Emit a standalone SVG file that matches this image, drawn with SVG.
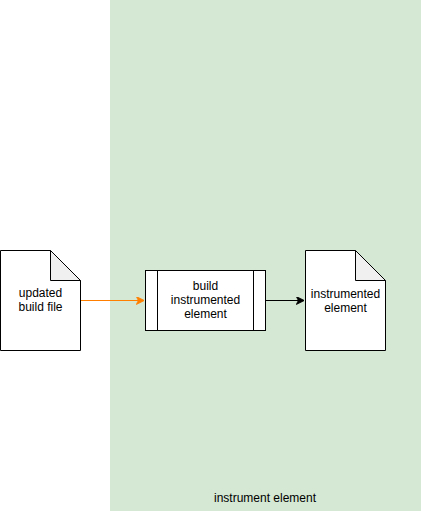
<svg xmlns="http://www.w3.org/2000/svg" width="421" height="511" viewBox="0 0 421 511">
  <style>
    .shape { fill: #ffffff; stroke: #000000; stroke-width: 1; }
    .fold { fill: #f0f0f0; stroke: #000000; stroke-width: 1; stroke-linejoin: round; }
    .label { font-family: "Liberation Sans", Arial, Helvetica, sans-serif; font-size: 12px; fill: #000000; text-anchor: middle; }
    .edge { fill: none; stroke-width: 1; }
  </style>
  <defs>
    <marker id="arrow-orange" viewBox="0 0 10 10" refX="9" refY="5" markerWidth="8" markerHeight="8" markerUnits="userSpaceOnUse" orient="auto">
      <path d="M0,0 L10,5 L0,10 L2.5,5 Z" fill="#ff8000" stroke="#ff8000"/>
    </marker>
    <marker id="arrow-black" viewBox="0 0 10 10" refX="9" refY="5" markerWidth="8" markerHeight="8" markerUnits="userSpaceOnUse" orient="auto">
      <path d="M0,0 L10,5 L0,10 L2.5,5 Z" fill="#000000" stroke="#000000"/>
    </marker>
  </defs>

  <!-- container -->
  <g id="instrument-element">
    <rect x="110.5" y="0.5" width="310" height="510" fill="#d5e8d4" stroke="#d5e8d4"/>
    <text class="label" x="265" y="502">instrument element</text>
  </g>

  <!-- connectors -->
  <g id="connectors">
    <path class="edge" d="M80.5,300.5 L143.5,300.5" stroke="#ff8000" marker-end="url(#arrow-orange)"/>
    <path class="edge" d="M265.5,300.5 L303.5,300.5" stroke="#000000" marker-end="url(#arrow-black)"/>
  </g>

  <!-- input document -->
  <g id="updated-build-file">
    <path class="shape" d="M0.5,250.5 H50.5 L80.5,280.5 V350.5 H0.5 Z"/>
    <path class="fold" d="M50.5,250.5 V280.5 H80.5 Z"/>
    <text class="label" x="40.5" y="297">updated</text>
    <text class="label" x="40.5" y="311">build file</text>
  </g>

  <!-- process -->
  <g id="build-instrumented-element">
    <rect class="shape" x="145.5" y="270.5" width="120" height="60"/>
    <path class="edge" d="M157.5,270.5 V330.5 M253.5,270.5 V330.5" stroke="#000000"/>
    <text class="label" x="205.5" y="290">build</text>
    <text class="label" x="205.5" y="304">instrumented</text>
    <text class="label" x="205.5" y="318">element</text>
  </g>

  <!-- output document -->
  <g id="instrumented-element">
    <path class="shape" d="M305.5,250.5 H355.5 L385.5,280.5 V350.5 H305.5 Z"/>
    <path class="fold" d="M355.5,250.5 V280.5 H385.5 Z"/>
    <text class="label" x="345.5" y="298">instrumented</text>
    <text class="label" x="345.5" y="312">element</text>
  </g>
</svg>
